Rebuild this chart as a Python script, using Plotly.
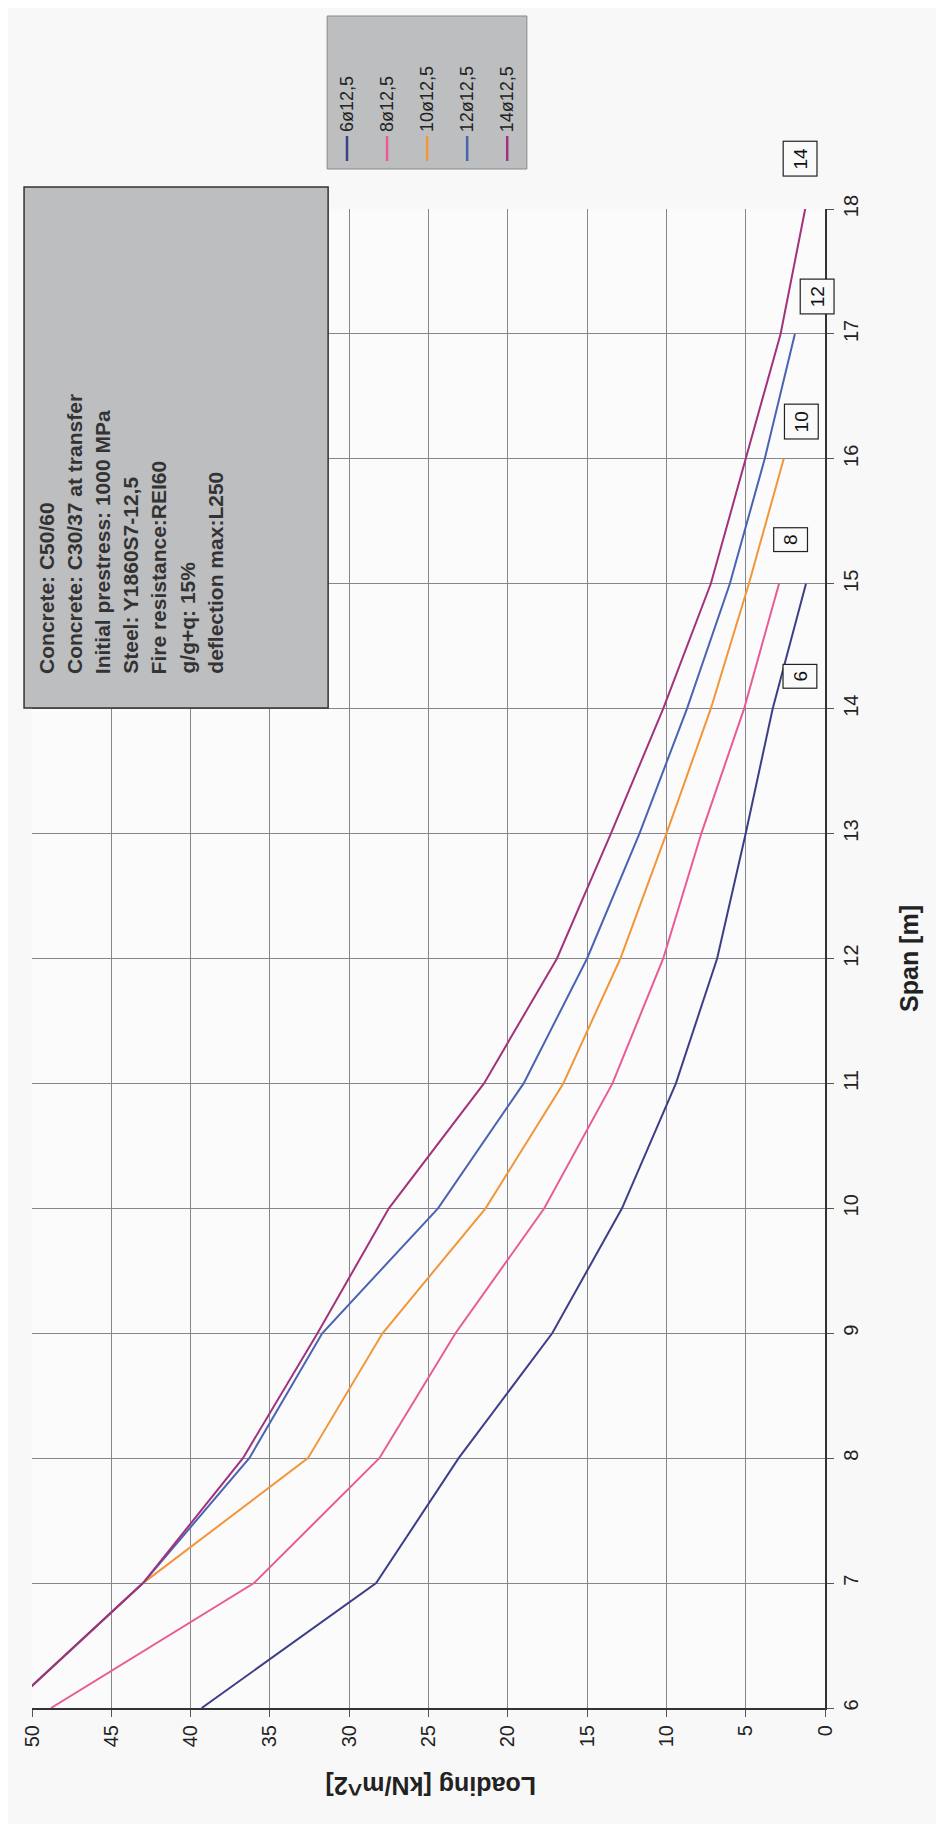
import plotly.graph_objects as go

# ---------------- data ----------------
series_names = ["6ø12,5", "8ø12,5", "10ø12,5", "12ø12,5", "14ø12,5"]
box_labels = ["6", "8", "10", "12", "14"]

span_6 = [6, 7, 8, 9, 10, 11, 12, 13, 14, 15]
load_6 = [39.3, 28.3, 23.1, 17.2, 12.8, 9.4, 6.8, 5.0, 3.3, 1.2]

span_8 = [6, 7, 8, 9, 10, 11, 12, 13, 14, 15]
load_8 = [48.8, 36.0, 28.1, 23.3, 17.7, 13.4, 10.2, 7.8, 5.1, 2.9]

span_10 = [6, 7, 8, 9, 10, 11, 12, 13, 14, 15, 16]
load_10 = [51.5, 43.0, 32.6, 27.9, 21.4, 16.5, 12.9, 10.0, 7.2, 4.8, 2.6]

span_12 = [6, 7, 8, 9, 10, 11, 12, 13, 14, 15, 16, 17]
load_12 = [51.5, 43.0, 36.3, 31.7, 24.4, 19.0, 15.0, 11.7, 8.7, 6.0, 3.8, 1.9]

span_14 = [6, 7, 8, 9, 10, 11, 12, 13, 14, 15, 16, 17, 18]
load_14 = [51.5, 43.0, 36.7, 32.0, 27.5, 21.5, 16.9, 13.5, 10.2, 7.2, 5.0, 2.8, 1.25]

# label box anchor positions (loading, span)
box_load = [1.6, 2.2, 1.5, 0.5, 1.6]
box_span = [14.26, 15.35, 16.3, 17.3, 18.4]

info_lines = [
    "Concrete: C50/60",
    "Concrete: C30/37 at transfer",
    "Initial prestress: 1000 MPa",
    "Steel: Y1860S7-12,5",
    "Fire resistance:REI60",
    "g/g+q: 15%",
    "deflection max:L250",
]

colors = ["#3d3f86", "#e85b97", "#f2963a", "#4a63b2", "#a2327c"]

load_ticks = [0, 5, 10, 15, 20, 25, 30, 35, 40, 45, 50]
span_ticks = [6, 7, 8, 9, 10, 11, 12, 13, 14, 15, 16, 17, 18]
span_range = [6, 18]
load_range = [50, 0]

# ---------------- layout geometry (pixels) ----------------
W, H = 944, 1824
PL, PR, PT, PB = 19, 817, 201, 1700  # plot area


def px(x):
    return (x - PL) / (PR - PL)


def py(y):
    return (PB - y) / (PB - PT)


FONT = "Liberation Sans, Arial, sans-serif"

fig = go.Figure()
all_span = [span_6, span_8, span_10, span_12, span_14]
all_load = [load_6, load_8, load_10, load_12, load_14]
for name, sp, ld, c in zip(series_names, all_span, all_load, colors):
    fig.add_trace(go.Scatter(x=ld, y=sp, mode="lines", name=name,
                             line=dict(color=c, width=2), showlegend=False))

annotations = []
shapes = []

# label boxes near curve ends (span mapped to paper so boxes beyond the range stay visible)
for lab, bl, bs in zip(box_labels, box_load, box_span):
    annotations.append(dict(x=bl, y=(bs - span_range[0]) / (span_range[1] - span_range[0]),
                            xref="x", yref="paper", text=lab, showarrow=False,
                            textangle=-90, font=dict(family=FONT, size=19, color="#111"),
                            bgcolor="#fafafa", bordercolor="#222", borderwidth=1.2,
                            borderpad=6, xanchor="center", yanchor="middle"))

# info text box (grey)
shapes.append(dict(type="rect", xref="paper", yref="paper",
                   x0=px(11), x1=px(317), y0=py(700), y1=py(179),
                   fillcolor="#bdbec0", line=dict(color="#333", width=1.5), layer="above"))
for i, t in enumerate(info_lines):
    annotations.append(dict(x=px(33 + 28.3 * i), y=py(668), xref="paper", yref="paper",
                            text="<b>%s</b>" % t, showarrow=False, textangle=-90,
                            font=dict(family=FONT, size=21, color="#333"),
                            xanchor="center", yanchor="bottom"))

# custom legend (grey box with rotated entries)
shapes.append(dict(type="rect", xref="paper", yref="paper",
                   x0=px(316), x1=px(517), y0=py(161), y1=py(8),
                   fillcolor="#bdbec0", line=dict(color="#888", width=1), layer="above"))
for i, (name, c) in enumerate(zip(series_names, colors)):
    xc = 336 + 40.3 * i
    shapes.append(dict(type="line", xref="paper", yref="paper",
                       x0=px(xc), x1=px(xc), y0=py(153), y1=py(128),
                       line=dict(color=c, width=2.5), layer="above"))
    annotations.append(dict(x=px(xc), y=py(126), xref="paper", yref="paper",
                            text=name, showarrow=False, textangle=-90,
                            font=dict(family=FONT, size=18, color="#222"),
                            xanchor="center", yanchor="bottom"))

# axis titles (rotated)
annotations.append(dict(x=px(901), y=0.5, xref="paper", yref="paper", text="<b>Span [m]</b>",
                        showarrow=False, textangle=-90,
                        font=dict(family=FONT, size=25, color="#222"),
                        xanchor="center", yanchor="middle"))
annotations.append(dict(x=px(420), y=py(1778), xref="paper", yref="paper",
                        text="<b>Loading [kN/m^2]</b>", showarrow=False, textangle=180,
                        font=dict(family=FONT, size=25, color="#222"),
                        xanchor="center", yanchor="middle"))

fig.update_layout(
    width=W, height=H,
    margin=dict(l=PL, r=W - PR, t=PT, b=H - PB),
    paper_bgcolor="#f8f8f8", plot_bgcolor="#fbfbfb",
    font=dict(family=FONT, color="#222"),
    annotations=annotations, shapes=shapes,
    showlegend=False,
)
fig.update_xaxes(range=load_range, tickvals=load_ticks, ticktext=[str(v) for v in load_ticks],
                 tickangle=-90, tickfont=dict(family=FONT, size=20, color="#222"),
                 showgrid=True, gridcolor="#85858c", gridwidth=1,
                 showline=True, linecolor="#333", linewidth=2,
                 ticks="outside", ticklen=7, tickcolor="#555",
                 side="bottom", zeroline=False, fixedrange=True)
fig.update_yaxes(range=span_range, tickvals=span_ticks, ticktext=[str(v) for v in span_ticks],
                 tickangle=-90, tickfont=dict(family=FONT, size=20, color="#222"),
                 showgrid=True, gridcolor="#85858c", gridwidth=1,
                 showline=True, linecolor="#333", linewidth=2,
                 ticks="outside", ticklen=7, tickcolor="#555",
                 side="right", zeroline=False, fixedrange=True)
fig.update_xaxes(tickprefix="<b>", ticksuffix="</b>")
fig.update_yaxes(tickprefix="<b>", ticksuffix="</b>")

fig.write_html("out.html")
